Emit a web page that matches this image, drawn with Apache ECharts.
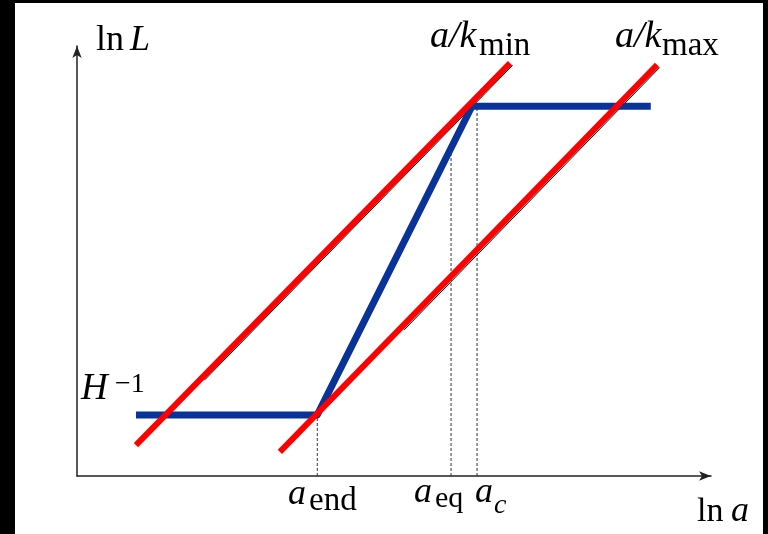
<!DOCTYPE html>
<html>
<head>
<meta charset="utf-8">
<script src="https://cdn.jsdelivr.net/npm/echarts@6/dist/echarts.min.js"></script>
<style>
  html, body { margin: 0; padding: 0; background: #000; width: 768px; height: 534px; overflow: hidden; }
  #chart { position: absolute; left: 15px; top: 3px; width: 748px; height: 531px; background: #fff; }
</style>
</head>
<body>
<div id="chart"></div>
<script>
// Schematic: ln L against ln a, with the two horizon lines a/k_min and a/k_max.
// Axis domain is arbitrary units (0..10 on both axes).

// characteristic scale factors along ln a
const aEnd = 3.79;
const aEq = 5.90;
const aC = 6.31;

// plateau levels of ln L
const lnHinv = 1.42;   // H^{-1}
const lnTop = 8.60;

// comoving length ln L (blue)
const lengthX = [0.93, 3.79, 6.23, 9.05];
const lengthY = [lnHinv, lnHinv, lnTop, lnTop];

// a/k_min and a/k_max (red)
const kMinX = [0.93, 6.83];
const kMinY = [0.72, 9.60];
const kMaxX = [3.20, 9.15];
const kMaxY = [0.56, 9.56];

// thin black guides running alongside the red lines
const kMinGuideX = [2.01, 6.87];
const kMinGuideY = [2.23, 9.55];
const kMaxGuideX = [5.16, 9.19];
const kMaxGuideY = [3.40, 9.50];

// dashed drops to the ln a axis: [x, top]
const drops = [[aEnd, lnHinv], [aEq, 7.55], [aC, lnTop]];

const zip = (xs, ys) => xs.map((x, i) => [x, ys[i]]);

const chart = echarts.init(document.getElementById('chart'), null, { renderer: 'canvas' });

const serif = 'Liberation Serif';
// text pieces: [text, left, baseline, size, italic]  (page coordinates)
const texts = [
  ['ln', 96, 53, 36, false], ['L', 130, 53, 36, true],
  ['a/k', 430, 50, 38, true], ['min', 479, 58, 33, false],
  ['a/k', 615, 50, 38, true], ['max', 662, 58, 33, false],
  ['H', 81, 402, 37, true], ['\u22121', 115, 394, 28, false],
  ['a', 288, 507, 36, true], ['end', 309, 513, 33, false],
  ['a', 414, 505, 36, true], ['eq', 435, 509, 30, false],
  ['a', 475, 505, 36, true], ['c', 494, 515, 28, true],
  ['ln', 697, 524, 34, false], ['a', 731, 524, 36, true]
];

const graphics = texts.map(([t, x, b, s, it]) => ({
  type: 'text',
  left: x - 15,
  top: b - 3 - 0.34 * s - s / 2,
  z: 100,
  style: {
    text: t,
    fill: '#000',
    font: (it ? 'italic ' : '') + s + 'px "' + serif + '"',
    verticalAlign: 'top'
  }
}));

const dropSeries = drops.map(([x, top]) => ({
  type: 'line',
  data: [[x, 0], [x, top]],
  symbol: 'none',
  z: 1,
  lineStyle: { color: '#333', width: 1, type: [3, 2] }
}));

chart.setOption({
  animation: false,
  backgroundColor: '#fff',
  grid: { left: 62, top: 43, right: 52, bottom: 58 },
  xAxis: {
    type: 'value', min: 0, max: 10,
    axisLine: { show: true, onZero: false, lineStyle: { color: '#222', width: 1.5 }, symbol: ['none', 'arrow'], symbolSize: [7, 12] },
    axisTick: { show: false }, axisLabel: { show: false }, splitLine: { show: false }
  },
  yAxis: {
    type: 'value', min: 0, max: 10,
    axisLine: { show: true, onZero: false, lineStyle: { color: '#222', width: 1.5 }, symbol: ['none', 'arrow'], symbolSize: [7, 12] },
    axisTick: { show: false }, axisLabel: { show: false }, splitLine: { show: false }
  },
  series: [
    ...dropSeries,
    { type: 'line', data: zip(kMinGuideX, kMinGuideY), symbol: 'none', z: 2, lineStyle: { color: '#000', width: 1 } },
    { type: 'line', data: zip(kMaxGuideX, kMaxGuideY), symbol: 'none', z: 2, lineStyle: { color: '#000', width: 1 } },
    { type: 'line', data: zip(lengthX, lengthY), symbol: 'none', z: 3, lineStyle: { color: '#0a3399', width: 7, join: 'round' } },
    { type: 'line', data: zip(kMinX, kMinY), symbol: 'none', z: 4, lineStyle: { color: '#ff0000', width: 6 } },
    { type: 'line', data: zip(kMaxX, kMaxY), symbol: 'none', z: 4, lineStyle: { color: '#ff0000', width: 6 } }
  ],
  graphic: graphics
});
</script>
</body>
</html>
